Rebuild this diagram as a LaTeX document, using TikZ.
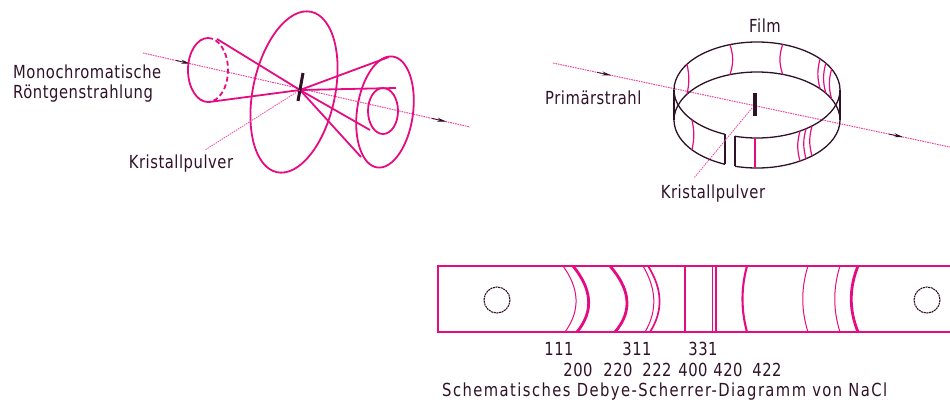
\documentclass[tikz,border=0pt]{standalone}
\usepackage{fontspec}
\setmainfont[FakeStretch=0.82]{DejaVu Sans}
\newfontfamily\wideface[FakeStretch=0.82,LetterSpace=3]{DejaVu Sans}
\newfontfamily\widerface[FakeStretch=0.82,LetterSpace=8]{DejaVu Sans}
\usetikzlibrary{arrows.meta,calc}
\definecolor{rub}{RGB}{228,12,128}
\definecolor{ink}{RGB}{48,18,38}
\begin{document}
\begin{tikzpicture}[x=1pt,y=-1pt,
  lbl/.style={text=ink,font=\wideface\fontsize{18}{20}\selectfont,inner sep=0pt},
  num/.style={text=ink,font=\wideface\fontsize{18}{20}\selectfont,inner sep=0pt},
  beam/.style={rub!75,line width=1pt,dash pattern=on 1.6pt off 0.9pt},
  lead/.style={rub!70,line width=0.9pt,dash pattern=on 1.4pt off 1pt},
  ray/.style={rub,line width=1.8pt},
  tipped/.style={ink,line width=0.8pt,-{Stealth[length=9pt,width=4pt]}},
  rim/.style={ink,line width=1.3pt},
  trace/.style={rub,line width=1.2pt},
  hole/.style={ink,line width=1.1pt,dash pattern=on 2pt off 0.7pt},
  line/.style={rub,line width=#1},
  line/.default=1pt]
\useasboundingbox (0,0) rectangle (950,410);

% ---------- scattering cones of a powder sample ----------
\coordinate (apex) at (300,90);
\coordinate (bL0) at (143,53);
\coordinate (bL1) at (470,127);
\draw[beam] (bL0) -- (bL1);
\draw[tipped] ($(bL0)!0.101!(bL1)$) -- ($(bL0)!0.144!(bL1)$);
\draw[tipped] ($(bL0)!0.884!(bL1)$) -- ($(bL0)!0.927!(bL1)$);

% backward cone
\coordinate (cb) at (208,70);
\draw[ray] (cb) ++(90:20 and 32) arc[start angle=90,end angle=270,x radius=20,y radius=32];
\draw[ray,dash pattern=on 5pt off 3pt] (cb) ++(-90:20 and 32) arc[start angle=-90,end angle=90,x radius=20,y radius=32];
\coordinate (cbT) at (217,39);
\coordinate (cbB) at (209,102);
\draw[ray] (cbT) -- (apex);
\draw[ray] (cbB) -- (apex);

% 90 degree cone (flat ring)
\coordinate (cm) at (294,92);
\draw[ray,rotate around={-12:(cm)}] (cm) ellipse (41 and 82);

% forward cones
\coordinate (cf) at (385,112);
\draw[ray,rotate around={-8:(cf)}] (cf) ellipse (28 and 56);
\coordinate (cfi) at (383,111);
\draw[ray] (cfi) ellipse (15 and 23);
\coordinate (cfT) at (389,57);
\coordinate (cfB) at (361,157);
\coordinate (ciT) at (396,88);
\coordinate (ciB) at (370,130);
\draw[ray] (apex) -- (cfT);
\draw[ray] (apex) -- (cfB);
\draw[ray] (apex) -- (ciT);
\draw[ray] (apex) -- (ciB);

% sample
\coordinate (sA) at (303,73);
\coordinate (sB) at (298,101);
\draw[ink,line width=3pt] (sA) -- (sB);

\coordinate (kpL) at (205,150);
\draw[lead] (apex) -- (kpL);
\node[lbl] (kristL) at (181,164) {Kristallpulver};
\node[lbl,anchor=west] (mono) at (13,72) {Monochromatische};
\node[lbl,anchor=west] (roent) at (13,94) {Röntgenstrahlung};

% ---------- Debye-Scherrer camera ----------
\coordinate (rT) at (757,90);
\coordinate (rB) at (757,120);
\coordinate (bR0) at (553,63);
\coordinate (bR1) at (950,147);
\draw[beam] (bR0) -- (bR1);
\draw[tipped] ($(bR0)!0.111!(bR1)$) -- ($(bR0)!0.146!(bR1)$);
\draw[tipped] ($(bR0)!0.846!(bR1)$) -- ($(bR0)!0.882!(bR1)$);

% film strip bent into a ring, open at the front
\draw[rim] (rT) ++(112.7:83 and 48) arc[start angle=112.7,end angle=465.4,x radius=83,y radius=48];
\draw[rim] (rB) ++(112.7:83 and 48) arc[start angle=112.7,end angle=465.4,x radius=83,y radius=48];
\draw[rim] ($(rT)+(112.7:83 and 48)$) -- ($(rB)+(112.7:83 and 48)$);
\draw[rim] ($(rT)+(105.4:83 and 48)$) -- ($(rB)+(105.4:83 and 48)$);
\draw[rim] ($(rT)+(180:83 and 48)$) -- ($(rB)+(180:83 and 48)$);
\draw[rim] ($(rT)+(0:83 and 48)$) -- ($(rB)+(0:83 and 48)$);

% diffraction lines on the film
\foreach \a/\b in {251/18,288/-18,319.5/-15,326/-15,334/-15,212.5/12,141.6/12,91.4/0,58.8/-15,53.8/-15,48.5/-15}
  \draw[trace] ($(rT)+(\a:83 and 48)$) to[bend left=\b] ($(rB)+(\a:83 and 48)$);

\coordinate (s2A) at (755,93);
\coordinate (s2B) at (755,116);
\draw[ink,line width=4.5pt] (s2A) -- (s2B);

\coordinate (kpR) at (694,178);
\coordinate (s2M) at (752,108);
\draw[lead] (s2M) -- (kpR);
\node[lbl] (kristR) at (713,194) {Kristallpulver};
\node[lbl] (film) at (765,26) {Film};
\node[lbl,anchor=west] (prim) at (545,98) {Primärstrahl};

% ---------- developed film ----------
\coordinate (fTL) at (438,266);
\coordinate (fBL) at (438,332);
\coordinate (fTR) at (955,266);
\coordinate (fBR) at (955,332);
\draw[rub,line width=1.4pt] (fTR) -- (fTL) -- (fBL) -- (fBR);
\coordinate (hL) at (497,300);
\coordinate (hR) at (927,300);
\draw[hole] (hL) circle (13);
\draw[hole] (hR) circle (13);

% curved lines: top x / bulge / bottom x / width
\foreach \t/\k/\b/\w in {563/16/565/1pt, 573/18/577/2.8pt, 610/19/615/2.8pt,
    643/13/645/1pt, 648/14/650/1.7pt,
    747/-6/747/2.1pt, 808/-7/808/1pt, 840/-7/840/1pt, 858/-9/858/2.8pt}
  \draw[line=\w] (\t,266) .. controls (\t+\k,288) and (\b+\k,310) .. (\b,332);
% straight lines
\foreach \x/\w in {685/1.6pt, 712/1pt, 716/2.4pt}
  \draw[line=\w] (\x,266) -- (\x,332);

\node[num] (n111) at (559,349) {111};
\node[num] (n311) at (637,349) {311};
\node[num] (n331) at (703,349) {331};
\node[num] (n200) at (578,370) {200};
\node[num] (n220) at (618,370) {220};
\node[num] (n222) at (657,370) {222};
\node[num] (n400) at (693,370) {400};
\node[num] (n420) at (728,370) {420};
\node[num] (n422) at (767,370) {422};
\node[text=ink,font=\widerface\fontsize{18}{20}\selectfont,inner sep=0pt,anchor=west] (cap) at (442,392) {Schematisches Debye-Scherrer-Diagramm von NaCl};
\end{tikzpicture}
\end{document}
